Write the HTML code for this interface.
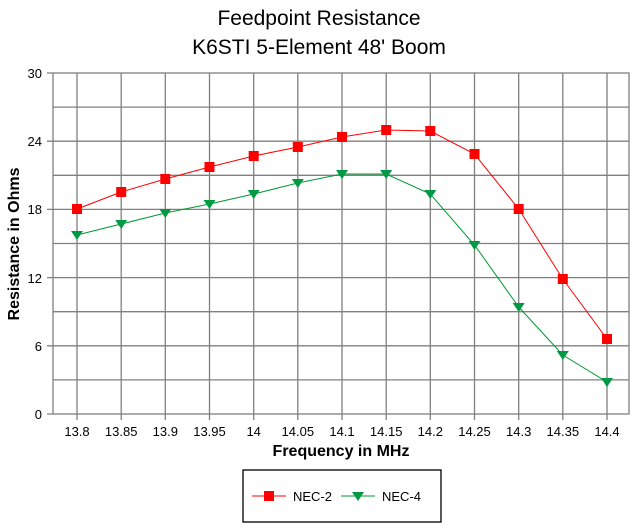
<!DOCTYPE html><html><head><style>body{margin:0;background:#fff}</style></head><body>
<svg width="638" height="527" xmlns="http://www.w3.org/2000/svg" font-family="Liberation Sans, sans-serif">
<rect width="638" height="527" fill="#fff"/>
<text x="319" y="25" font-size="21" text-anchor="middle">Feedpoint Resistance</text>
<text x="319" y="54" font-size="21" text-anchor="middle">K6STI 5-Element 48' Boom</text>
<g stroke="#808080" stroke-width="1.3" fill="none">
<rect x="53" y="73" width="576" height="341"/>
<path d="M53 107.1H629M53 141.2H629M53 175.3H629M53 209.4H629M53 243.5H629M53 277.6H629M53 311.7H629M53 345.8H629M53 379.9H629"/>
<path d="M77 73V420M121.2 73V420M165.3 73V420M209.5 73V420M253.7 73V420M297.8 73V420M342 73V420M386.2 73V420M430.3 73V420M474.5 73V420M518.7 73V420M562.8 73V420M607 73V420"/>
<path d="M47 73H53M47 141.2H53M47 209.4H53M47 277.6H53M47 345.8H53M47 414H53"/>
</g>
<g font-size="13" text-anchor="end">
<text x="42" y="78">30</text><text x="42" y="146">24</text><text x="42" y="214">18</text><text x="42" y="283">12</text><text x="42" y="351">6</text><text x="42" y="419">0</text>
</g>
<g font-size="13" text-anchor="middle">
<text x="77" y="436">13.8</text><text x="121.2" y="436">13.85</text><text x="165.3" y="436">13.9</text><text x="209.5" y="436">13.95</text><text x="253.7" y="436">14</text><text x="297.8" y="436">14.05</text><text x="342" y="436">14.1</text><text x="386.2" y="436">14.15</text><text x="430.3" y="436">14.2</text><text x="474.5" y="436">14.25</text><text x="518.7" y="436">14.3</text><text x="562.8" y="436">14.35</text><text x="607" y="436">14.4</text>
</g>
<text x="341" y="456" font-size="16" font-weight="bold" text-anchor="middle">Frequency in MHz</text>
<text transform="translate(19 244) rotate(-90)" font-size="16" font-weight="bold" text-anchor="middle">Resistance in Ohms</text>
<polyline fill="none" stroke="#f00" stroke-width="1" points="77,209 121.2,192 165.3,179 209.5,167 253.7,156 297.8,147 342,137 386.2,130 430.3,131 474.5,154 518.7,209 562.8,279 607,339"/>
<polyline fill="none" stroke="#009933" stroke-width="1" points="77,235 121.2,224 165.3,213 209.5,204 253.7,194 297.8,183 342,174 386.2,174 430.3,194 474.5,245 518.7,307 562.8,355 607,382"/>
<g fill="#f00">
<rect x="72" y="204" width="10" height="10"/><rect x="116.2" y="187" width="10" height="10"/><rect x="160.3" y="174" width="10" height="10"/><rect x="204.5" y="162" width="10" height="10"/><rect x="248.7" y="151" width="10" height="10"/><rect x="292.8" y="142" width="10" height="10"/><rect x="337" y="132" width="10" height="10"/><rect x="381.2" y="125" width="10" height="10"/><rect x="425.3" y="126" width="10" height="10"/><rect x="469.5" y="149" width="10" height="10"/><rect x="513.7" y="204" width="10" height="10"/><rect x="557.8" y="274" width="10" height="10"/><rect x="602" y="334" width="10" height="10"/>
</g>
<g fill="#009944">
<path d="M71 231h12l-6 9z"/><path d="M115.2 220h12l-6 9z"/><path d="M159.3 209h12l-6 9z"/><path d="M203.5 200h12l-6 9z"/><path d="M247.7 190h12l-6 9z"/><path d="M291.8 179h12l-6 9z"/><path d="M336 170h12l-6 9z"/><path d="M380.2 170h12l-6 9z"/><path d="M424.3 190h12l-6 9z"/><path d="M468.5 241h12l-6 9z"/><path d="M512.7 303h12l-6 9z"/><path d="M556.8 351h12l-6 9z"/><path d="M601 378h12l-6 9z"/>
</g>
<rect x="243" y="470" width="198" height="52" fill="none" stroke="#000" stroke-width="1.3"/>
<line x1="252" y1="496" x2="286" y2="496" stroke="#f00"/><rect x="264" y="491" width="10" height="10" fill="#f00"/>
<text x="293" y="501" font-size="13">NEC-2</text>
<line x1="341" y1="496" x2="375" y2="496" stroke="#009933"/><path d="M352 492h12l-6 9z" fill="#009944"/>
<text x="382" y="501" font-size="13">NEC-4</text>
</svg>
</body></html>
